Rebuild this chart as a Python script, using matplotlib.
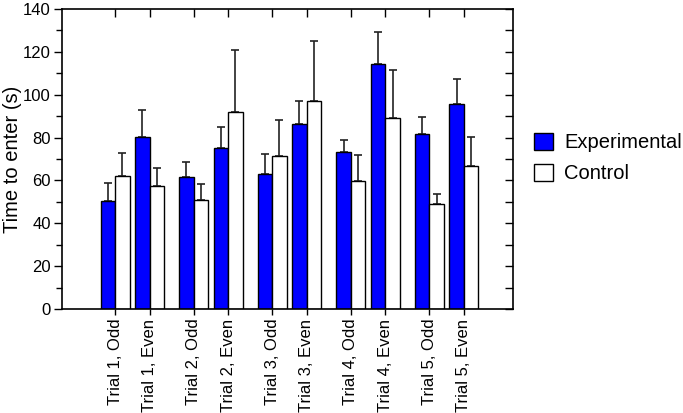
import numpy as np
import matplotlib
matplotlib.use('Agg')
from matplotlib import pyplot as plt
from matplotlib.ticker import MultipleLocator

plt.rcParams['font.family'] = ['Liberation Sans', 'DejaVu Sans']

labels = ['Trial 1, Odd', 'Trial 1, Even', 'Trial 2, Odd', 'Trial 2, Even',
          'Trial 3, Odd', 'Trial 3, Even', 'Trial 4, Odd', 'Trial 4, Even',
          'Trial 5, Odd', 'Trial 5, Even']
experimental = [50.3, 80.2, 61.4, 75.3, 62.8, 86.2, 73.1, 114.5, 81.7, 95.6]
experimental_err = [8.6, 12.5, 7.0, 9.5, 9.4, 10.9, 5.8, 14.7, 7.9, 11.6]
control = [62.0, 57.5, 51.1, 91.9, 71.5, 97.1, 59.8, 89.0, 48.9, 66.6]
control_err = [10.9, 8.1, 7.2, 29.2, 16.7, 28.2, 12.2, 22.6, 5.0, 13.7]

# pairs (odd/even) sit close together, trials further apart
centers = np.array([t * 78.6 + k * 34.5 for t in range(5) for k in range(2)])
w = 14.5

fig = plt.figure(figsize=(6.83, 4.13), dpi=100)
ax = fig.add_axes([62/683, 1 - 309/413, (513 - 62)/683, 300/413])

ax.bar(centers - w/2, experimental, w, color='#0000ff', edgecolor='black', linewidth=1, label='Experimental', zorder=2)
ax.bar(centers + w/2, control, w, color='white', edgecolor='black', linewidth=1, label='Control', zorder=2)
ax.errorbar(centers - w/2, experimental, yerr=[np.zeros(10), experimental_err], fmt='none',
            ecolor='#222222', elinewidth=1.2, capsize=3, capthick=1.2, zorder=1)
ax.errorbar(centers + w/2, control, yerr=[np.zeros(10), control_err], fmt='none',
            ecolor='#222222', elinewidth=1.2, capsize=3, capthick=1.2, zorder=1)

ax.set_xlim(-53, 398)
ax.set_ylim(0, 140)
ax.yaxis.set_major_locator(MultipleLocator(20))
ax.yaxis.set_minor_locator(MultipleLocator(10))
ax.set_xticks(centers)
ax.set_xticklabels(labels, rotation=90, fontsize=12)
ax.tick_params(axis='y', which='major', direction='out', length=6, width=1, labelsize=12, pad=2)
ax.tick_params(axis='y', which='minor', direction='out', length=4, width=1)
ax.tick_params(axis='y', which='both', right=True, labelright=False)
ax.tick_params(axis='x', direction='out', length=4, width=1, top=True, pad=3)
for t in ax.yaxis.get_major_ticks() + ax.yaxis.get_minor_ticks():
    t.tick2line.set_marker(matplotlib.lines.TICKLEFT)
    t.tick2line.set_markersize(6)
for t in ax.xaxis.get_major_ticks():
    t.tick2line.set_marker(matplotlib.lines.TICKDOWN)
    t.tick2line.set_markersize(6)
for s in ax.spines.values():
    s.set_linewidth(1.2)

ax.set_ylabel('Time to enter (s)', fontsize=14.5, labelpad=1)

fig.legend(loc='center left', bbox_to_anchor=(534/683, 1 - 158/413), frameon=False,
           fontsize=14.5, handlelength=0.95, handleheight=0.95, handletextpad=0.55,
           labelspacing=0.55, borderpad=0, borderaxespad=0)

plt.savefig('out.png', dpi=100)
